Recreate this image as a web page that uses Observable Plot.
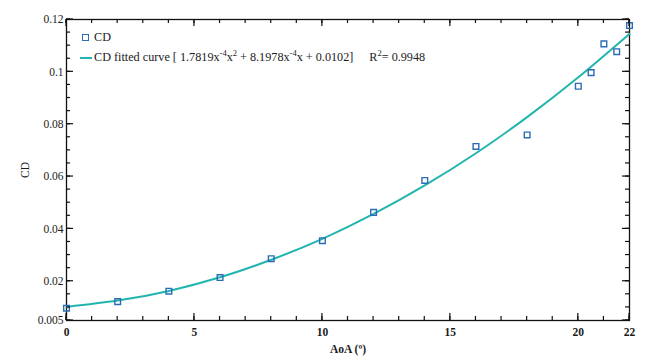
<!DOCTYPE html>
<html>
<head>
<meta charset="utf-8">
<script src="https://cdn.jsdelivr.net/npm/d3@7"></script>
<script src="https://cdn.jsdelivr.net/npm/@observablehq/plot@0.6"></script>
<style>
  body { margin: 0; background: #fff; }
  #wrap { position: relative; width: 650px; height: 357px; font-family: "Liberation Serif", "DejaVu Serif", serif; }
  #legend { position: absolute; left: 78px; top: 27px; font-size: 12.2px; color: #1a1a1a; line-height: 20px; }
  #legend .row { display: flex; align-items: center; white-space: nowrap; }
  #legend .sq { display: inline-block; width: 5px; height: 5px; border: 1.4px solid #2a6db5; margin: 0 5px 0 4px; }
  #legend .ln { display: inline-block; width: 12px; height: 2px; background: #22b5ae; margin: 0 2px 0 2px; }
  #legend .sp { position: relative; top: -5px; font-size: 8.5px; }
  #legend .r2 { margin-left: 16px; }
</style>
</head>
<body>
<div id="wrap">
  <div id="chart"></div>
  <div id="legend">
    <div class="row"><span class="sq"></span><span>CD</span></div>
    <div class="row"><span class="ln"></span><span>CD fitted curve [ 1.7819x<span class="sp">-4</span>x<span class="sp">2</span> + 8.1978x<span class="sp">-4</span>x + 0.0102]</span><span class="r2">R<span class="sp">2</span>= 0.9948</span></div>
  </div>
</div>
<script>
// Measured CD points
const aoa = [0, 2, 4, 6, 8, 10, 12, 14, 16, 18, 20, 20.5, 21, 21.5, 22];
const cd  = [0.0097, 0.0122, 0.0162, 0.0214, 0.0286, 0.0355, 0.0463, 0.0585, 0.0715, 0.0759, 0.0945, 0.0997, 0.1107, 0.1077, 0.1177];

// Fitted curve points
const fitAoa = [0, 2, 4, 6, 8, 10, 12, 14, 16, 18, 20, 22];
const fitCd  = [0.0102, 0.0126, 0.0163, 0.0215, 0.0282, 0.0362, 0.0457, 0.0566, 0.0689, 0.0827, 0.0979, 0.1145];

// Tick values
const xMajor = [0, 5, 10, 15, 20, 22];
const xMinor = d3.range(0, 23, 1);
const yMajor = [0.005, 0.02, 0.04, 0.06, 0.08, 0.1, 0.12];
const yMinor = d3.range(1, 25).map(i => +(i * 0.005).toFixed(3));

const points = aoa.map((x, i) => ({x, y: cd[i]}));
const fit = fitAoa.map((x, i) => ({x, y: fitCd[i]}));

const fmt = d => String(+d.toFixed(3));

const chart = Plot.plot({
  width: 650,
  height: 357,
  marginLeft: 66,
  marginRight: 21,
  marginTop: 19,
  marginBottom: 37,
  style: { fontFamily: "Liberation Serif, DejaVu Serif, serif", fontSize: "11.5px", color: "#1a1a1a", background: "#fff" },
  x: { domain: [0, 22] },
  y: { domain: [0.005, 0.12] },
  marks: [
    Plot.axisX({ anchor: "bottom", ticks: xMajor, tickSize: 0, tickPadding: 7, tickFormat: fmt,
                 label: "AoA (º)", labelAnchor: "center", labelArrow: "none", labelOffset: 32,
                 fontWeight: "bold" }),
    Plot.axisY({ anchor: "left", ticks: yMajor, tickSize: 0, tickPadding: 3, tickFormat: fmt,
                 label: "CD", labelAnchor: "center", labelArrow: "none", labelOffset: 46 }),
    Plot.frame({ stroke: "#111", strokeWidth: 1.3 }),
    Plot.line(fit, { x: "x", y: "y", curve: "natural", stroke: "#22b5ae", strokeWidth: 2 }),
    Plot.dot(points, { x: "x", y: "y", symbol: "square", r: 3.2, stroke: "#2a6db5", strokeWidth: 1.4, fill: "none" })
  ]
});

// Inward ticks on all four sides, placed with the plot's own scales
const sx = chart.scale("x"), sy = chart.scale("y");
const X = d3.scaleLinear(sx.domain, sx.range);
const Y = d3.scaleLinear(sy.domain, sy.range);
const xl = Math.min(...sx.range), xr = Math.max(...sx.range);
const yb = Math.max(...sy.range), yt = Math.min(...sy.range);
const g = d3.select(chart).append("g").attr("stroke", "#111").attr("stroke-width", 1.2).attr("fill", "none");
const addX = (vals, len) => vals.forEach(v => {
  const px = X(v);
  g.append("line").attr("x1", px).attr("x2", px).attr("y1", yb).attr("y2", yb - len);
  g.append("line").attr("x1", px).attr("x2", px).attr("y1", yt).attr("y2", yt + len);
});
const addY = (vals, len) => vals.forEach(v => {
  const py = Y(v);
  g.append("line").attr("y1", py).attr("y2", py).attr("x1", xl).attr("x2", xl + len);
  g.append("line").attr("y1", py).attr("y2", py).attr("x1", xr).attr("x2", xr - len);
});
addX(xMinor, 4); addX(xMajor, 7);
addY(yMinor, 4); addY(yMajor, 7);

document.getElementById("chart").appendChild(chart);
</script>
</body>
</html>
